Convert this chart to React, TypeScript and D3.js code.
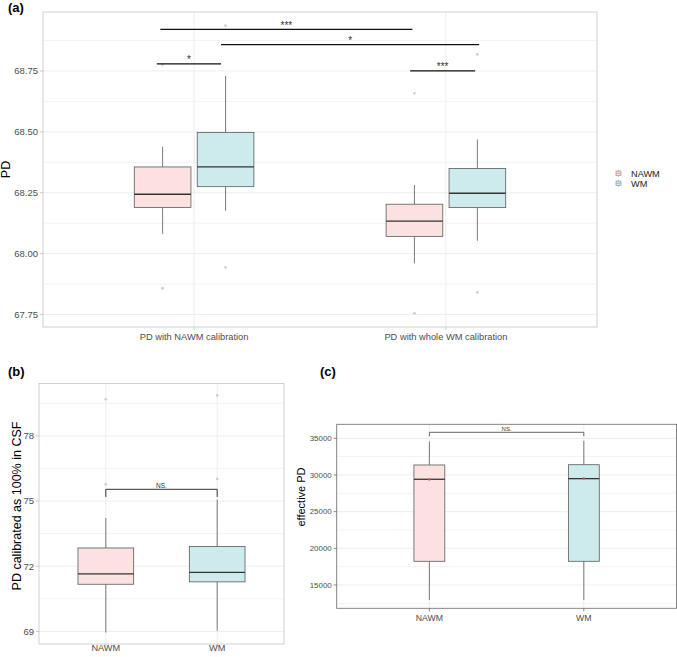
import React from "react";
import * as d3 from "d3";

// ---------- shared ----------
const groups = ["NAWM", "WM"];

// ---------- panel (a) data ----------
const aCategories = ["PD with NAWM calibration", "PD with whole WM calibration"];
const aYTicks = [67.75, 68.0, 68.25, 68.5, 68.75];
const aBoxCat = [1, 1, 2, 2];
const aBoxGroup = [0, 1, 0, 1];
const aLower = [68.081, 68.176, 67.96, 68.053];
const aQ1 = [68.19, 68.275, 68.071, 68.189];
const aMedian = [68.244, 68.356, 68.134, 68.248];
const aQ3 = [68.356, 68.497, 68.203, 68.35];
const aUpper = [68.439, 68.73, 68.282, 68.469];
const aOutliers = [[67.858, 68.775], [67.944, 68.936], [67.755, 68.658], [67.841, 68.818]];
const aBracketStart = [0.852, 0.866, 1.107, 1.858];
const aBracketEnd = [1.107, 1.867, 2.132, 2.116];
const aBracketY = [68.779, 68.921, 68.858, 68.75];
const aBracketLabel = ["*", "***", "*", "***"];

// ---------- panel (b) data ----------
const bCategories = ["NAWM", "WM"];
const bYTicks = [69, 72, 75, 78];
const bLower = [68.95, 69.03];
const bQ1 = [71.17, 71.28];
const bMedian = [71.65, 71.72];
const bQ3 = [72.84, 72.91];
const bUpper = [74.22, 75.07];
const bOutliers = [[75.77, 79.68], [76.02, 79.86]];
const bBracketY = 75.54;
const bBracketTip = 75.19;
const bBracketLabel = "NS.";

// ---------- panel (c) data ----------
const cCategories = ["NAWM", "WM"];
const cYTicks = [15000, 20000, 25000, 30000, 35000];
const cLower = [12955, 12955];
const cQ1 = [18232, 18232];
const cMedian = [29414, 29500];
const cQ3 = [31364, 31400];
const cUpper = [34580, 34660];
const cMeans = [29400, 29530];
const cBracketY = 35818;
const cBracketTip = 35300;
const cBracketLabel = "NS.";

// ---------- styling ----------
const FONT = "'Liberation Sans', Arial, Helvetica, sans-serif";
const FILLS = ["#fbe2e0", "#cdebed"];
const KEY_STROKES = ["#b89a98", "#8fb3b5"];
const BOX_STROKE = "#5a5a5a";
const MEDIAN_STROKE = "#333333";
const GRID = "#ebebeb";
const TEXT = "#4d4d4d";
const OUTLIER = "#cfcfcf";

type Box = {
  x: number;
  group: number;
  lower: number;
  q1: number;
  median: number;
  q3: number;
  upper: number;
  outliers: number[];
  mean?: number;
};

function minorTicks(major: number[], domain: [number, number]) {
  const step = major[1] - major[0];
  const res: number[] = [];
  for (let v = major[0] - step / 2; v <= domain[1]; v += step) {
    if (v >= domain[0]) res.push(v);
  }
  return res;
}

function BoxPanel(props: {
  left: number;
  top: number;
  right: number;
  bottom: number;
  yDomain: [number, number];
  yTicks: number[];
  fmt: (v: number) => string;
  categories: string[];
  boxes: Box[];
  boxWidth: number;
  borderColor: string;
  tickColor: string;
  tickFont: number;
  yTickFont: number;
  xLabelOffset: number;
}) {
  const { left, top, right, bottom, yDomain, yTicks, fmt, categories, boxes, boxWidth } = props;
  const x = d3.scaleLinear().domain([0.4, categories.length + 0.6]).range([left, right]);
  const y = d3.scaleLinear().domain(yDomain).range([bottom, top]);
  const minors = minorTicks(yTicks, yDomain);
  const bw = x(boxWidth) - x(0);
  return (
    <g>
      {minors.map((v, i) => (
        <line key={"mi" + i} x1={left} x2={right} y1={y(v)} y2={y(v)} stroke={GRID} strokeWidth={0.6} />
      ))}
      {yTicks.map((v, i) => (
        <line key={"ma" + i} x1={left} x2={right} y1={y(v)} y2={y(v)} stroke={GRID} strokeWidth={0.9} />
      ))}
      {categories.map((c, i) => (
        <line key={"vx" + i} x1={x(i + 1)} x2={x(i + 1)} y1={top} y2={bottom} stroke={GRID} strokeWidth={0.9} />
      ))}
      {boxes.map((b, i) => {
        const cx = x(b.x);
        return (
          <g key={"box" + i}>
            <line x1={cx} x2={cx} y1={y(b.upper)} y2={y(b.q3)} stroke={BOX_STROKE} strokeWidth={0.8} />
            <line x1={cx} x2={cx} y1={y(b.q1)} y2={y(b.lower)} stroke={BOX_STROKE} strokeWidth={0.8} />
            <rect
              x={cx - bw / 2}
              y={y(b.q3)}
              width={bw}
              height={y(b.q1) - y(b.q3)}
              fill={FILLS[b.group]}
              stroke={BOX_STROKE}
              strokeWidth={0.8}
            />
            <line x1={cx - bw / 2} x2={cx + bw / 2} y1={y(b.median)} y2={y(b.median)} stroke={MEDIAN_STROKE} strokeWidth={1.3} />
            {b.outliers.map((o, j) => (
              <circle key={j} cx={cx} cy={y(o)} r={1.4} fill={OUTLIER} />
            ))}
            {b.mean !== undefined && <circle cx={cx} cy={y(b.mean)} r={1.2} fill="#e8443a" />}
          </g>
        );
      })}
      <rect x={left} y={top} width={right - left} height={bottom - top} fill="none" stroke={props.borderColor} strokeWidth={0.9} />
      {yTicks.map((v, i) => (
        <g key={"yt" + i}>
          <line x1={left - 3} x2={left} y1={y(v)} y2={y(v)} stroke={props.tickColor} strokeWidth={0.7} />
          <text x={left - 5} y={y(v)} dy="0.35em" textAnchor="end" fontSize={props.yTickFont} fill={TEXT} fontFamily={FONT}>
            {fmt(v)}
          </text>
        </g>
      ))}
      {categories.map((c, i) => (
        <g key={"xt" + i}>
          <line x1={x(i + 1)} x2={x(i + 1)} y1={bottom} y2={bottom + 3} stroke={props.tickColor} strokeWidth={0.7} />
          <text x={x(i + 1)} y={bottom + props.xLabelOffset} textAnchor="middle" fontSize={props.tickFont} fill={TEXT} fontFamily={FONT}>
            {c}
          </text>
        </g>
      ))}
    </g>
  );
}

export default function App() {
  // panel (a)
  const aL = 43, aR = 597, aT = 12, aB = 327;
  const aDomain: [number, number] = [67.699, 68.992];
  const aBoxes: Box[] = aBoxCat.map((c, i) => ({
    x: c + (aBoxGroup[i] === 0 ? -0.125 : 0.125),
    group: aBoxGroup[i],
    lower: aLower[i],
    q1: aQ1[i],
    median: aMedian[i],
    q3: aQ3[i],
    upper: aUpper[i],
    outliers: aOutliers[i],
  }));
  const ax = d3.scaleLinear().domain([0.4, 2.6]).range([aL, aR]);
  const ay = d3.scaleLinear().domain(aDomain).range([aB, aT]);

  // panel (b)
  const bL = 39, bR = 284, bT = 383.5, bB = 644;
  const bDomain: [number, number] = [68.42, 80.41];
  const bBoxes: Box[] = bCategories.map((c, i) => ({
    x: i + 1,
    group: i,
    lower: bLower[i],
    q1: bQ1[i],
    median: bMedian[i],
    q3: bQ3[i],
    upper: bUpper[i],
    outliers: bOutliers[i],
  }));
  const bx = d3.scaleLinear().domain([0.4, 2.6]).range([bL, bR]);
  const by = d3.scaleLinear().domain(bDomain).range([bB, bT]);

  // panel (c)
  const cL = 336.7, cR = 676.5, cT = 424.3, cB = 608.3;
  const cDomain: [number, number] = [11823, 36909];
  const cBoxes: Box[] = cCategories.map((c, i) => ({
    x: i + 1,
    group: i,
    lower: cLower[i],
    q1: cQ1[i],
    median: cMedian[i],
    q3: cQ3[i],
    upper: cUpper[i],
    outliers: [],
    mean: cMeans[i],
  }));
  const cx = d3.scaleLinear().domain([0.4, 2.6]).range([cL, cR]);
  const cy = d3.scaleLinear().domain(cDomain).range([cB, cT]);

  return (
    <svg width={677} height={657} style={{ position: "absolute", left: 0, top: 0, background: "#fff" }}>
      <rect width={677} height={657} fill="#fff" />
      {/* ---------- (a) ---------- */}
      <text x={8} y={12} fontSize={13} fontWeight="bold" fontFamily={FONT} fill="#000">(a)</text>
      <BoxPanel
        left={aL}
        top={aT}
        right={aR}
        bottom={aB}
        yDomain={aDomain}
        yTicks={aYTicks}
        fmt={d3.format(".2f")}
        categories={aCategories}
        boxes={aBoxes}
        boxWidth={0.225}
        borderColor="#cccccc"
        tickColor="#b3b3b3"
        tickFont={9.3}
        yTickFont={9.5}
        xLabelOffset={13}
      />
      {aBracketStart.map((s, i) => (
        <g key={"ab" + i}>
          <line x1={ax(s)} x2={ax(aBracketEnd[i])} y1={ay(aBracketY[i])} y2={ay(aBracketY[i])} stroke="#111" strokeWidth={1.3} />
          <text
            x={(ax(s) + ax(aBracketEnd[i])) / 2}
            y={ay(aBracketY[i]) - 0.5}
            textAnchor="middle"
            fontSize={10}
            fontFamily={FONT}
            fill="#333"
          >
            {aBracketLabel[i]}
          </text>
        </g>
      ))}
      <text transform={`translate(10,${(aT + aB) / 2}) rotate(-90)`} textAnchor="middle" fontSize={12.5} fontFamily={FONT} fill="#000">
        PD
      </text>
      {/* legend */}
      {groups.map((g, i) => {
        const ky = 173.3 + i * 10;
        return (
          <g key={"lg" + i}>
            <line x1={618.5} x2={618.5} y1={ky - 3.5} y2={ky + 3.5} stroke={KEY_STROKES[i]} strokeWidth={0.8} />
            <rect x={616} y={ky - 2.2} width={5} height={4.4} fill={FILLS[i]} stroke={KEY_STROKES[i]} strokeWidth={0.8} />
            <line x1={616} x2={621} y1={ky} y2={ky} stroke={KEY_STROKES[i]} strokeWidth={0.8} />
            <text x={631} y={ky} dy="0.35em" fontSize={9.2} fontFamily={FONT} fill="#222">
              {g}
            </text>
          </g>
        );
      })}

      {/* ---------- (b) ---------- */}
      <text x={8} y={376} fontSize={13} fontWeight="bold" fontFamily={FONT} fill="#000">(b)</text>
      <BoxPanel
        left={bL}
        top={bT}
        right={bR}
        bottom={bB}
        yDomain={bDomain}
        yTicks={bYTicks}
        fmt={d3.format("d")}
        categories={bCategories}
        boxes={bBoxes}
        boxWidth={0.5}
        borderColor="#cccccc"
        tickColor="#b3b3b3"
        tickFont={9.2}
        yTickFont={9.5}
        xLabelOffset={6.5}
      />
      <path
        d={`M${bx(1)},${by(bBracketTip)}V${by(bBracketY)}H${bx(2)}V${by(bBracketTip)}`}
        fill="none"
        stroke="#333"
        strokeWidth={1}
      />
      <text x={(bx(1) + bx(2)) / 2} y={by(bBracketY) - 1.5} textAnchor="middle" fontSize={6.5} fontFamily={FONT} fill="#333">
        {bBracketLabel}
      </text>
      <text transform={`translate(21,506) rotate(-90)`} textAnchor="middle" fontSize={12.5} fontFamily={FONT} fill="#000">
        PD calibrated as 100% in CSF
      </text>

      {/* ---------- (c) ---------- */}
      <text x={320} y={376} fontSize={13} fontWeight="bold" fontFamily={FONT} fill="#000">(c)</text>
      <BoxPanel
        left={cL}
        top={cT}
        right={cR}
        bottom={cB}
        yDomain={cDomain}
        yTicks={cYTicks}
        fmt={d3.format("d")}
        categories={cCategories}
        boxes={cBoxes}
        boxWidth={0.2}
        borderColor="#777777"
        tickColor="#555555"
        tickFont={8.7}
        yTickFont={7.9}
        xLabelOffset={12.5}
      />
      <path
        d={`M${cx(1)},${cy(cBracketTip)}V${cy(cBracketY)}H${cx(2)}V${cy(cBracketTip)}`}
        fill="none"
        stroke="#555"
        strokeWidth={0.9}
      />
      <text x={(cx(1) + cx(2)) / 2} y={cy(cBracketY) - 1.5} textAnchor="middle" fontSize={6} fontFamily={FONT} fill="#333">
        {cBracketLabel}
      </text>
      <text transform={`translate(305,497) rotate(-90)`} textAnchor="middle" fontSize={11} fontFamily={FONT} fill="#000">
        effective PD
      </text>
    </svg>
  );
}
